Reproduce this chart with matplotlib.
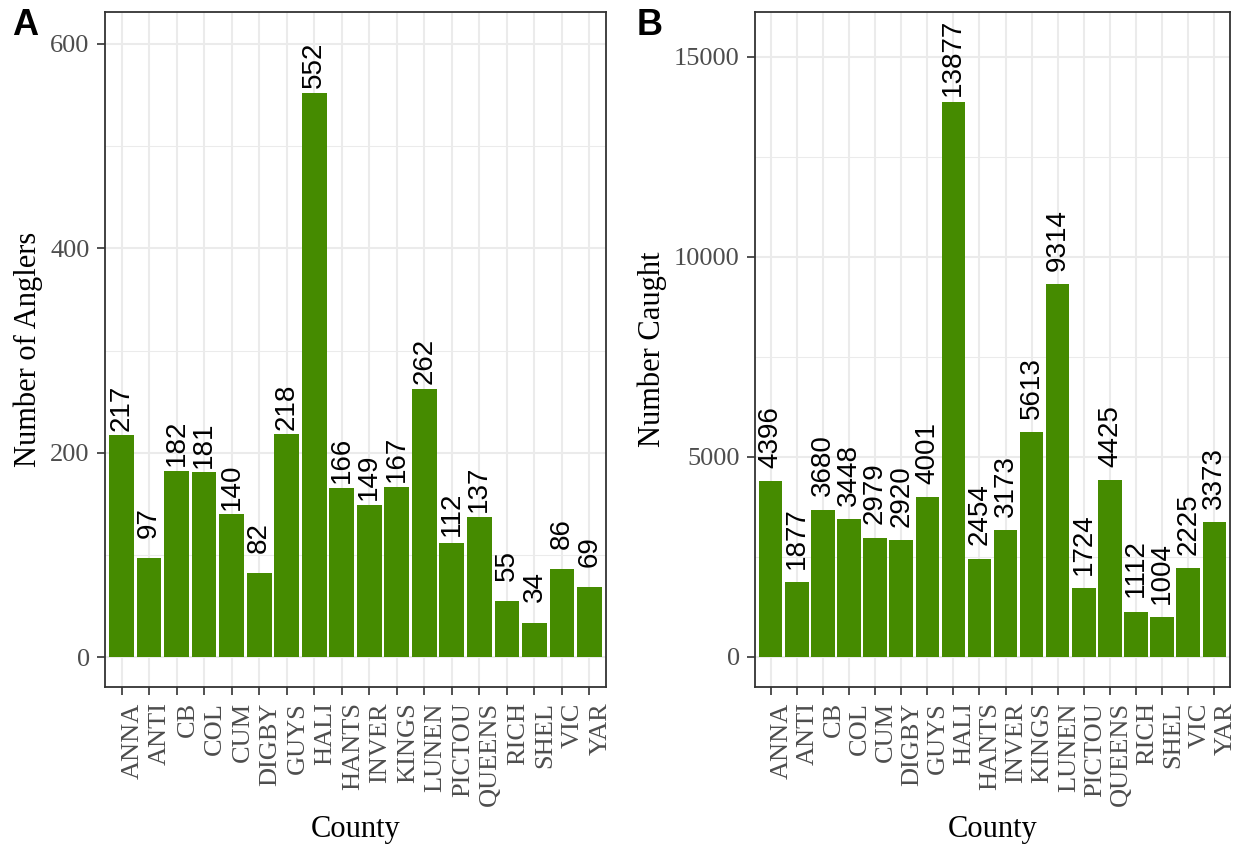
import numpy as np
import matplotlib
matplotlib.use("Agg")
import matplotlib.pyplot as plt
from matplotlib.ticker import MultipleLocator

counties = ["ANNA", "ANTI", "CB", "COL", "CUM", "DIGBY", "GUYS", "HALI", "HANTS",
            "INVER", "KINGS", "LUNEN", "PICTOU", "QUEENS", "RICH", "SHEL", "VIC", "YAR"]
anglers = [217, 97, 182, 181, 140, 82, 218, 552, 166, 149, 167, 262, 112, 137, 55, 34, 86, 69]
caught = [4396, 1877, 3680, 3448, 2979, 2920, 4001, 13877, 2454, 3173, 5613, 9314,
          1724, 4425, 1112, 1004, 2225, 3373]

W, H = 1241, 848
fig = plt.figure(figsize=(W / 100, H / 100), dpi=100)

serif = "Liberation Serif"
sans = "Liberation Sans"
green = "#458B00"
grid_col = "#EBEBEB"
dark = "#333333"


def panel(left, right, top, bottom, vals, ylim, major, minor, shift, lab_va,
          ylabel, tag, tagx):
    ax = fig.add_axes([left / W, 1 - bottom / H, (right - left) / W, (bottom - top) / H])
    x = np.arange(len(counties))
    ax.bar(x, vals, width=0.9, color=green, zorder=2)
    for xi, v in zip(x, vals):
        ax.text(xi, v + shift, str(v), rotation=90, ha="center", va=lab_va,
                fontsize=20, family=sans, color="black", zorder=3)
    ax.set_xlim(-0.6, len(counties) - 0.4)
    ax.set_ylim(*ylim)
    ax.yaxis.set_major_locator(MultipleLocator(major))
    ax.yaxis.set_minor_locator(MultipleLocator(minor))
    ax.set_xticks(x)
    ax.set_xticklabels(counties, rotation=90, ha="left", va="top",
                       family=serif, fontsize=19, color="#4D4D4D")
    for lab in ax.get_yticklabels():
        lab.set_family(serif)
    ax.tick_params(axis="y", which="major", labelsize=19, labelcolor="#4D4D4D",
                   length=6, width=1.2, color=dark, pad=5)
    ax.tick_params(axis="y", which="minor", length=0)
    ax.tick_params(axis="x", length=6, width=1.2, color=dark, pad=5)
    ax.grid(True, which="major", color=grid_col, linewidth=1.5, zorder=0)
    ax.grid(True, which="minor", axis="y", color=grid_col, linewidth=0.75, zorder=0)
    ax.set_axisbelow(True)
    for s in ax.spines.values():
        s.set_color(dark)
        s.set_linewidth(1.3)
    ax.set_ylabel(ylabel, family=serif, fontsize=22, labelpad=5)
    ax.set_xlabel("County", family=serif, fontsize=22, labelpad=6)
    fig.text(tagx / W, 1 - 8 / H, tag, family=sans, fontsize=26,
             fontweight="bold", ha="left", va="top")
    return ax


panel(105, 606, 12, 687, anglers, (-29, 631), 200, 100, 50, "top",
      "Number of Anglers", "A", 12)
panel(755, 1230, 12, 687, caught, (-757, 16117), 5000, 2500, 1100, "center",
      "Number Caught", "B", 637)

fig.savefig("out.png", dpi=100)
